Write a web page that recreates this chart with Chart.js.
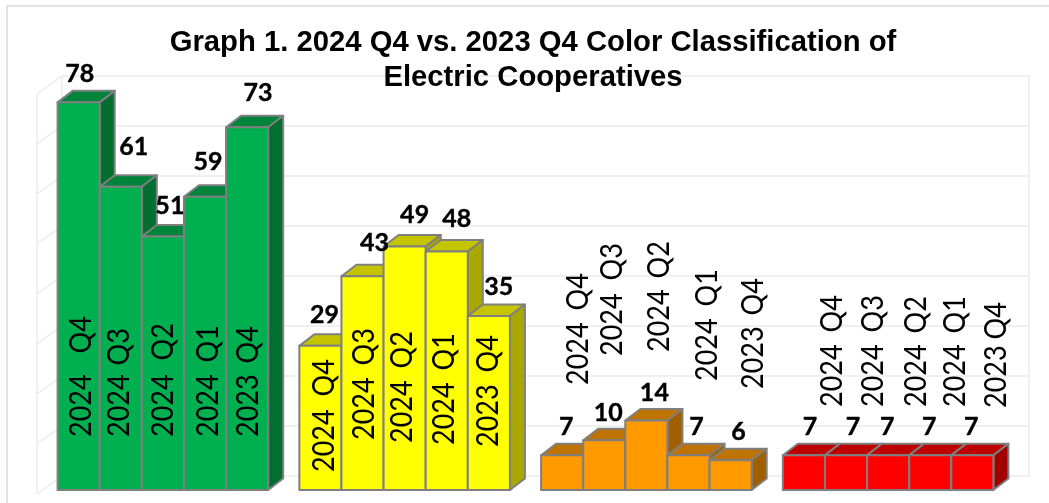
<!DOCTYPE html>
<html>
<head>
<meta charset="utf-8">
<style>
html,body{margin:0;padding:0;background:#fff;width:1049px;height:503px;overflow:hidden}
#frame{position:absolute;left:6px;top:5px;width:1100px;height:600px;border:2px solid #e2e2e2}
#c{position:absolute;left:0;top:0}
</style>
<script src="https://cdn.jsdelivr.net/npm/chart.js@4/dist/chart.umd.min.js"></script>
</head>
<body>
<div id="frame"></div>
<canvas id="c" width="1049" height="503"></canvas>
<script>
const categories = ['Green', 'Yellow', 'Orange', 'Red'];
const periods = ['2024 Q4', '2024 Q3', '2024 Q2', '2024 Q1', '2023 Q4'];
const q4of2024 = [78, 29, 7, 7];
const q3of2024 = [61, 43, 10, 7];
const q2of2024 = [51, 49, 14, 7];
const q1of2024 = [59, 48, 7, 7];
const q4of2023 = [73, 35, 6, 7];
const seriesValues = [q4of2024, q3of2024, q2of2024, q1of2024, q4of2023];
const yTicks = [0, 10, 20, 30, 40, 50, 60, 70, 80];
const titleLines = ['Graph 1. 2024 Q4 vs. 2023 Q4 Color Classification of', 'Electric Cooperatives'];

// styles
const frontColors = ['#00b050', '#ffff00', '#ff9900', '#ff0000'];
const topColors = ['#00843c', '#c4c400', '#bf7300', '#bf0000'];
const sideColors = ['#006f30', '#a8a800', '#a06000', '#a00000'];
const edge = '#7f7f7f';
const wall = '#f0f0f0';
const depthX = 15, depthY = 11.5;

// manual label placement: value labels relative to the bar top, period labels relative to bar base
const valueOffsets = [
  [[1,-28],[13,-40],[7,-31],[3,-35],[11,-34]],
  [[4,-31],[12,-33],[10,-32],[10,-33],[10,-29]],
  [[4,-28],[4,-27],[8,-27],[8,-28],[8,-28]],
  [[6,-28],[7,-28],[-1,-28],[-1,-28],[-1,-28]]
];
const periodOffsets = [
  [[3,53],[-1,53],[0,53],[3,53],[1,53]],
  [[4,18],[2,50],[-2,47],[-2,45],[-1,43]],
  [[16,105],[8,134],[13,138],[19,109],[23,101]],
  [[28,83],[27,83],[28,83],[25,83],[24,82]]
];
// extra gap between the year and the quarter in each period label
const periodGaps = [
  [14,2,7,5,4],
  [6,5,5,5,5],
  [5,6,4,5,4],
  [5,5,4,4,-1]
];
const textSqueeze = 0.9;

const poly = (ctx, pts, fill) => {
  ctx.beginPath();
  pts.forEach((p, i) => i ? ctx.lineTo(p[0], p[1]) : ctx.moveTo(p[0], p[1]));
  ctx.closePath();
  ctx.fillStyle = fill;
  ctx.fill();
  ctx.stroke();
};

const walls = {
  id: 'walls',
  beforeDraw(chart) {
    const { ctx, chartArea: a, scales: { y } } = chart;
    const base = y.getPixelForValue(0);
    const backL = a.left + 20, backR = a.right + 20, frontL = a.left - 5;
    const wallY = v => base - 14 - (base - y.getPixelForValue(v)) * 1.006;
    ctx.save();
    ctx.strokeStyle = wall;
    ctx.lineWidth = 2;
    ctx.beginPath();
    yTicks.forEach(v => {
      const p = wallY(v);
      ctx.moveTo(frontL, p + 18);
      ctx.lineTo(backL, p);
      ctx.lineTo(backR, p);
    });
    const t = wallY(yTicks[yTicks.length - 1]), b = wallY(0);
    ctx.moveTo(backL, t); ctx.lineTo(backL, b);
    ctx.moveTo(backR, t); ctx.lineTo(backR, b);
    ctx.moveTo(frontL, t + 18); ctx.lineTo(frontL, b + 18);
    ctx.stroke();
    ctx.restore();
  }
};

const bars3d = {
  id: 'bars3d',
  beforeDatasetDraw() { return false; },
  afterDatasetsDraw(chart) {
    const { ctx } = chart;
    ctx.save();
    ctx.lineWidth = 2;
    ctx.strokeStyle = edge;
    ctx.lineJoin = 'round';
    seriesValues.forEach((s, di) => {
      chart.getDatasetMeta(di).data.forEach((bar, ci) => {
        const { x, y, base, width } = bar.getProps(['x', 'y', 'base', 'width'], true);
        const l = x - width / 2, r = x + width / 2;
        poly(ctx, [[l, y], [l + depthX, y - depthY], [r + depthX, y - depthY], [r, y]], topColors[ci]);
        poly(ctx, [[r, y], [r + depthX, y - depthY], [r + depthX, base - depthY], [r, base]], sideColors[ci]);
        bar.draw(ctx);
        ctx.strokeRect(l, y, width, base - y);
      });
    });
    // period labels on / above the bars
    ctx.fillStyle = '#000';
    ctx.textBaseline = 'middle';
    ctx.textAlign = 'left';
    ctx.font = '30px Lato';
    seriesValues.forEach((s, di) => {
      chart.getDatasetMeta(di).data.forEach((bar, ci) => {
        const o = periodOffsets[ci][di];
        ctx.save();
        ctx.translate(bar.x + o[0], bar.base - o[1]);
        ctx.rotate(-Math.PI / 2);
        ctx.scale(textSqueeze, 1);
        ctx.wordSpacing = (periodGaps[ci][di] / textSqueeze) + 'px';
        ctx.fillText(periods[di], 0, 0);
        ctx.restore();
      });
    });
    // value labels
    ctx.textAlign = 'center';
    ctx.font = 'bold 25px Lato';
    ctx.strokeStyle = '#000';
    ctx.lineWidth = 0.4;
    seriesValues.forEach((s, di) => {
      chart.getDatasetMeta(di).data.forEach((bar, ci) => {
        const o = valueOffsets[ci][di];
        ctx.fillText(String(s[ci]), bar.x + o[0], bar.y + o[1]);
        ctx.strokeText(String(s[ci]), bar.x + o[0], bar.y + o[1]);
      });
    });
    ctx.restore();
  }
};

new Chart(document.getElementById('c'), {
  type: 'bar',
  data: {
    labels: categories,
    datasets: seriesValues.map((s, i) => ({
      label: periods[i],
      data: s,
      backgroundColor: frontColors,
      borderWidth: 0,
      barPercentage: 1,
      categoryPercentage: 0.871
    }))
  },
  options: {
    responsive: false,
    animation: false,
    layout: { padding: { left: 42, right: 25, top: 0, bottom: 13 } },
    scales: {
      x: { display: false },
      y: {
        position: 'right',
        min: 0,
        max: 80,
        ticks: { stepSize: 10, display: false },
        grid: { display: false },
        border: { display: false },
        afterFit(scale) { scale.width = 15; }
      }
    },
    plugins: {
      legend: { display: false },
      tooltip: { enabled: false },
      title: {
        display: true,
        text: titleLines,
        color: '#000',
        font: { family: 'Liberation Sans', size: 29.25, weight: 'bold', lineHeight: 1.2 },
        padding: { top: 25.3, bottom: -3.1 }
      }
    }
  },
  plugins: [walls, bars3d]
});
</script>
</body>
</html>
